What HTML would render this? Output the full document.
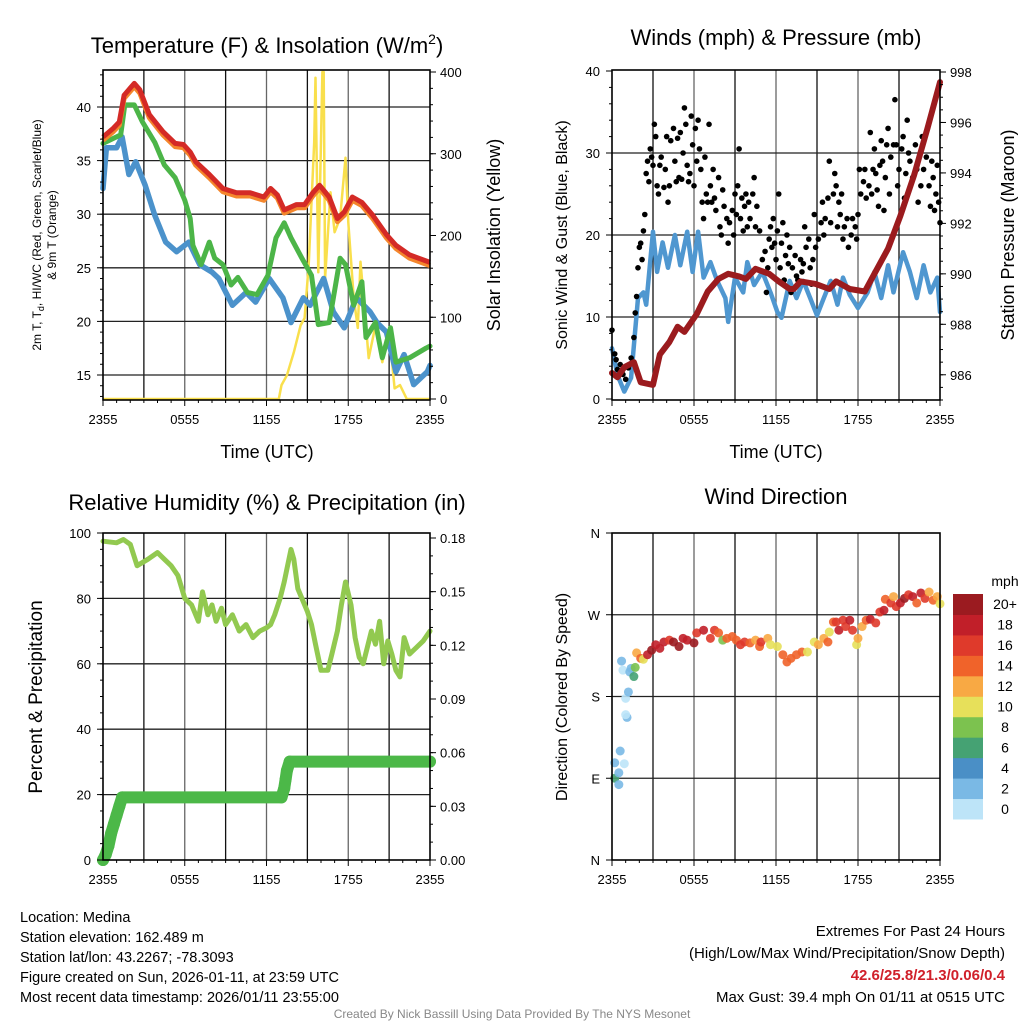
<!DOCTYPE html>
<html><head><meta charset="utf-8">
<style>
body{margin:0;background:#fff;}
svg{display:block;font-family:"Liberation Sans",Arial,sans-serif;}
</style></head>
<body>
<svg id="c" width="1024" height="1024" viewBox="0 0 1024 1024" xmlns="http://www.w3.org/2000/svg">
<rect width="1024" height="1024" fill="#fff"/>
<!-- titles -->
<text x="267" y="53" font-size="22" text-anchor="middle">Temperature (F) &amp; Insolation (W/m<tspan font-size="14" dy="-9">2</tspan><tspan dy="9">)</tspan></text>
<text x="776" y="45" font-size="22" text-anchor="middle">Winds (mph) &amp; Pressure (mb)</text>
<text x="267" y="510" font-size="22" text-anchor="middle">Relative Humidity (%) &amp; Precipitation (in)</text>
<text x="776" y="504" font-size="22" text-anchor="middle">Wind Direction</text>
<!-- axis titles -->
<text x="267" y="458" font-size="18" text-anchor="middle">Time (UTC)</text>
<text x="776" y="458" font-size="18" text-anchor="middle">Time (UTC)</text>
<text transform="translate(41,235) rotate(-90)" font-size="12" text-anchor="middle">2m T, T<tspan font-size="9" dy="3">d</tspan><tspan dy="-3">, HI/WC (Red, Green, Scarlet/Blue)</tspan></text>
<text transform="translate(56,235) rotate(-90)" font-size="12" text-anchor="middle">&amp; 9m T (Orange)</text>
<text transform="translate(500,235) rotate(-90)" font-size="18" text-anchor="middle">Solar Insolation (Yellow)</text>
<text transform="translate(567,235) rotate(-90)" font-size="16" text-anchor="middle">Sonic Wind &amp; Gust (Blue, Black)</text>
<text transform="translate(1014,235) rotate(-90)" font-size="18" text-anchor="middle">Station Pressure (Maroon)</text>
<text transform="translate(42,697) rotate(-90)" font-size="19" text-anchor="middle">Percent &amp; Precipitation</text>
<text transform="translate(567,697) rotate(-90)" font-size="16" text-anchor="middle">Direction (Colored By Speed)</text>
<!-- footer -->
<g font-size="14.5">
<text x="20" y="922">Location: Medina</text>
<text x="20" y="942">Station elevation: 162.489 m</text>
<text x="20" y="962">Station lat/lon: 43.2267; -78.3093</text>
<text x="20" y="982">Figure created on Sun, 2026-01-11, at 23:59 UTC</text>
<text x="20" y="1002">Most recent data timestamp: 2026/01/11 23:55:00</text>
</g>
<g font-size="15" text-anchor="end">
<text x="1005" y="936">Extremes For Past 24 Hours</text>
<text x="1005" y="958">(High/Low/Max Wind/Precipitation/Snow Depth)</text>
<text x="1005" y="980" fill="#d0202a" font-weight="bold">42.6/25.8/21.3/0.06/0.4</text>
<text x="1005" y="1002">Max Gust: 39.4 mph On 01/11 at 0515 UTC</text>
</g>
<text x="512" y="1018" font-size="12" fill="#888" text-anchor="middle">Created By Nick Bassill Using Data Provided By The NYS Mesonet</text>
<g id="g"></g>
</svg>
<script>
// ---- data ----
const xTickLabels=["2355","0555","1155","1755","2355"];
const tempTicks=[15,20,25,30,35,40];
const solarTicks=[0,100,200,300,400];
const windTicks=[0,10,20,30,40];
const presTicks=[986,988,990,992,994,996,998];
const rhTicks=[0,20,40,60,80,100];
const precipTicks=["0.00","0.03","0.06","0.09","0.12","0.15","0.18"];
const dirTicks=["N","E","S","W","N"];
const cbarLabels=["0","2","4","6","8","10","12","14","16","18","20+"];
const cbarColors=["#bde4f8","#7ab9e5","#4a8fc6","#45a273","#7cc24f","#e7e05a","#f8a944","#f0632a","#df3a2b","#c11f29","#9b1b20"];

const redH=[0,0.75,1.2,1.55,2.3,2.7,3.4,4.4,5.3,5.9,6.4,6.8,7.8,8.8,9.8,10.8,11.8,12.3,12.8,13.3,14.2,14.8,15.4,15.9,16.6,17.2,17.7,18.3,19,19.8,20.8,21.5,22.5,24];
const redT=[37.2,38,38.6,41.1,42.2,41.6,39.3,37.7,36.6,36.5,35.8,34.9,33.7,32.4,32,32,31.6,32.4,31.8,30.4,30.9,30.9,32,32.7,31.6,29.6,30.2,31.6,31.1,29.9,28.1,27.1,26.2,25.5];
const orangeT=[36.9,37.7,38.3,40.8,41.9,41.3,39.0,37.4,36.3,36.2,35.5,34.6,33.4,32.1,31.7,31.7,31.3,32.1,31.5,30.1,30.6,30.6,31.7,32.4,31.3,29.3,29.9,31.3,30.8,29.6,27.8,26.8,25.9,25.2];
const greenH=[0,1.3,1.6,2.3,2.9,3.8,4.5,5.3,6.0,6.4,6.6,7.2,7.8,8.2,8.8,9.4,9.9,10.6,11.3,12.1,12.7,13.3,13.8,14.6,15.3,15.8,16.6,17.4,17.8,18.4,19,19.3,20,20.5,21.1,21.5,22.5,23.7,24];
const greenT=[36.6,37.4,40.2,40.2,38.6,36.7,34.6,33.4,31.3,29.6,27.1,25.3,27.4,25.9,25.3,23.4,24.1,22.7,22.5,24.3,27.8,29.2,27.8,25.9,24.3,19.7,19.9,25.9,25.3,21.5,23.7,18.5,19.9,16.6,19.4,16.2,16.6,17.5,17.7];
const blueH=[0,0.25,1,1.4,1.9,2.4,3.1,3.8,4.6,5.4,6.3,7.1,8,8.5,9.5,10.5,11.2,12.2,13.2,13.8,14.7,15.2,16.2,16.9,17.7,18.6,19.6,20.1,20.8,21.5,22.1,22.8,23.8,24];
const blueT=[32.4,36.2,36.2,37.2,33.7,34.9,32.7,29.9,27.4,26.5,27.4,25.3,24.6,24,21.5,22.7,21.8,24,22.2,19.9,22.2,21.5,24,20.9,19.4,22.2,20.9,19.9,19,15.3,16.9,14.1,15.3,15.9];
const solarH=[0,12.9,13.1,13.5,14,14.5,14.8,15.1,15.5,15.6,15.8,16.1,16.2,16.3,16.7,17,17.4,17.8,18,18.4,18.7,18.9,19.5,20,20.5,21,21.4,21.8,22.3,24];
const solarV=[0,0,17,29,57,90,99,164,314,393,155,400,400,148,253,204,221,295,216,124,87,168,50,90,45,82,13,17,0,0];

const presH=[0,0.4,0.9,1.6,2.1,3,3.5,4.2,4.8,5.3,6.2,7,7.8,8.5,9.3,9.8,10.5,11.5,12.2,13,13.3,13.8,14.9,15.9,16.4,17.4,18.5,19.2,20.2,21.1,22.1,23.1,24];
const presV=[986.07,985.9,986.3,986.5,985.7,985.6,986.8,987.3,987.9,987.7,988.4,989.3,989.8,990,989.9,989.8,990.2,990,989.7,989.4,989.4,989.7,989.6,989.4,989.7,989.4,989.3,990,991,992.3,993.9,995.8,997.6];
const windH=[0,0.4,0.9,1.4,1.9,2.3,2.5,3,3.3,3.7,4.1,4.6,5,5.5,5.9,6.3,6.7,7.2,7.7,8.3,8.5,9,9.6,9.9,10.4,11,11.6,12.1,12.4,13,13.5,14,14.5,15,15.5,16,16.5,16.9,17.4,18,18.7,19.2,19.7,20.2,20.6,21.3,21.8,22.3,22.8,23.3,23.8,24];
const windV=[6.2,2.9,0.9,2.6,12.3,13,11.5,20.4,15.5,19.1,16,20,16.3,20.4,15.5,20.4,14.8,16.7,14.4,12.3,9.4,14.8,13,16.7,13.9,15.5,13,10.6,9.9,14.4,12.3,14.4,12.3,10.2,12.3,14.4,11.5,14.8,12.7,11.1,13,15.5,12.3,16.3,13,17.9,15.5,12.3,16.3,13,14.8,10.6];
const gustH=[0.0,0.2,0.3,0.4,0.6,0.8,1.0,1.2,1.4,1.6,1.7,1.8,1.9,2.0,2.1,2.2,2.3,2.4,2.5,2.6,2.7,2.8,2.9,3.0,3.1,3.2,3.3,3.4,3.5,3.6,3.8,3.9,4.0,4.1,4.2,4.3,4.5,4.6,4.7,4.8,4.9,5.0,5.1,5.2,5.3,5.4,5.5,5.6,5.7,5.8,5.9,6.0,6.1,6.2,6.3,6.4,6.5,6.6,6.7,6.8,6.9,7.0,7.1,7.2,7.3,7.4,7.5,7.6,7.8,7.9,8.0,8.1,8.2,8.4,8.5,8.6,8.8,8.9,9.0,9.1,9.2,9.3,9.4,9.5,9.6,9.7,9.8,9.9,10.0,10.1,10.3,10.4,10.5,10.6,10.8,11.0,11.1,11.2,11.3,11.4,11.5,11.6,11.7,11.8,11.9,12.0,12.1,12.2,12.3,12.4,12.5,12.6,12.7,12.8,12.9,13.0,13.1,13.2,13.4,13.5,13.6,13.8,13.9,14.0,14.1,14.2,14.4,14.5,14.6,14.7,14.8,14.9,15.1,15.3,15.4,15.5,15.6,15.8,15.9,16.0,16.2,16.3,16.4,16.5,16.6,16.7,16.8,16.9,17.0,17.2,17.3,17.5,17.6,17.8,17.9,18.0,18.1,18.2,18.4,18.5,18.6,18.8,18.9,19.0,19.1,19.2,19.3,19.4,19.5,19.6,19.7,19.8,19.9,20.0,20.1,20.2,20.3,20.4,20.6,20.7,20.8,20.9,21.0,21.2,21.3,21.4,21.5,21.6,21.7,21.8,22.0,22.2,22.3,22.4,22.6,22.7,22.8,23.0,23.2,23.3,23.4,23.5,23.6,23.7,23.8,23.9,24.0];
const gustV=[8.4,5.5,4.8,3.6,4.2,3.0,2.4,3.8,5.0,7.5,10.5,12.5,16.0,18.5,19.0,17.0,20.5,22.5,27.5,29.0,26.5,30.5,29.5,28.5,33.5,32.0,26.0,25.0,28.5,29.5,25.8,28.0,32.0,24.0,26.0,31.5,33.0,29.0,26.5,31.8,27.0,32.5,26.8,30.0,35.5,33.5,28.5,26.5,27.5,34.5,31.0,26.0,33.0,29.0,34.0,30.5,28.0,24.0,22.0,29.5,25.0,24.0,33.5,26.0,24.0,28.0,24.5,23.0,27.0,21.0,20.0,25.5,23.5,22.0,19.0,21.5,23.0,20.0,25.0,22.5,26.0,30.5,22.0,24.5,20.5,23.5,25.0,21.0,24.0,22.0,25.0,27.0,21.0,23.5,20.5,17.0,15.5,18.0,13.0,16.0,19.5,21.0,18.5,22.0,19.0,17.0,20.5,25.0,16.0,19.0,21.5,14.5,17.5,20.0,16.5,18.5,13.0,16.0,17.5,15.0,14.5,17.0,15.5,16.5,21.0,18.5,19.5,16.0,14.0,17.0,22.5,18.5,19.5,21.5,24.0,20.0,22.0,24.5,29.0,21.5,25.0,27.5,26.0,21.0,24.0,22.5,25.0,19.5,21.0,22.0,18.5,20.0,22.0,21.0,19.5,22.5,28.0,25.0,26.5,28.0,24.5,26.0,32.5,25.0,28.0,30.5,27.5,25.5,23.5,28.5,31.5,29.0,23.0,27.0,31.0,33.0,25.0,29.5,31.0,36.5,31.0,26.0,28.0,30.5,32.0,24.5,27.5,34.0,30.0,29.0,27.0,31.0,28.0,24.0,26.0,32.0,28.0,29.5,26.0,23.5,29.0,27.0,23.0,25.0,28.5,24.0,21.5];

const rhH=[0,1,1.5,2,2.5,3.3,4,4.5,5,5.5,6,6.5,7,7.3,7.7,8,8.3,8.7,9,9.5,10,10.5,11,11.5,12,12.3,12.6,13,13.3,13.5,13.8,14,14.3,14.6,15,15.3,15.6,16,16.5,16.8,17.2,17.5,17.8,18.2,18.5,18.8,19.1,19.4,19.7,20,20.3,20.6,20.9,21.2,21.5,21.8,22.1,22.5,23,23.5,24];
const rhV=[97.5,97,98,96.5,90,92,94,92,90,87,80,78,73,82,75,78,73,77,72,75,70,72,68,70,71,72,75,80,85,89,95,92,83,80,76,72,66,58,58,63,70,78,85,78,68,62,60,65,70,66,73,60,67,63,58,56,68,63,65,67,70];
const precipH=[0,0.2,0.4,0.6,0.8,1.0,1.2,1.4,13.1,13.3,13.4,13.5,13.7,24];
const precipV=[0,0.003,0.008,0.015,0.02,0.025,0.03,0.035,0.035,0.04,0.045,0.05,0.055,0.055];

const dirH=[0.2,0.2,0.5,0.5,0.6,0.9,1.1,1.0,1.0,1.2,0.7,0.8,1.3,1.4,1.6,1.7,1.8,2.1,2.3,2.6,2.9,3.2,3.5,3.8,4.2,4.5,4.9,5.2,5.5,6.0,6.2,6.7,7.2,7.5,7.8,8.1,8.4,8.8,9.1,9.4,9.7,10.1,10.5,10.8,10.9,11.4,11.6,12.1,12.5,12.8,13.1,13.5,13.9,14.3,14.8,15.1,15.5,15.8,15.9,16.2,16.4,16.6,16.9,17.1,17.4,17.6,17.9,18.0,18.3,18.6,18.9,19.3,19.6,19.9,20.0,20.4,20.6,20.8,21.1,21.4,21.7,22.0,22.3,22.6,22.9,23.2,23.5,23.8,24];
const dirV=[90,107,96,83,120,106,157,160,178,185,219,209,207,211,202,212,228,222,221,226,231,237,233,240,242,240,235,244,242,239,250,253,244,253,250,242,244,246,242,237,240,239,242,235,240,244,237,235,226,218,222,226,229,229,240,237,244,240,251,262,262,253,264,257,264,253,237,244,257,264,265,261,273,275,287,283,290,279,283,288,292,290,283,294,288,295,286,290,282];
const dirSpd=[6,3,3,3,3,1,3,1,1,3,3,1,3,3,7,8,13,14,11,19,20,18,19,18,17,20,20,19,18,20,16,18,17,17,15,8,14,15,15,17,17,14,12,14,17,13,10,10,14,14,14,14,14,10,10,12,12,14,10,14,16,18,16,16,18,16,10,12,12,14,18,16,16,18,14,16,12,16,18,20,16,18,14,18,16,12,14,12,10];

// ---- rendering ----
const NS="http://www.w3.org/2000/svg";
const G=document.getElementById('g');
function el(tag,attrs,parent){const e=document.createElementNS(NS,tag);for(const k in attrs)e.setAttribute(k,attrs[k]);(parent||G).appendChild(e);return e;}
function lin(d0,d1,r0,r1){return v=>r0+(v-d0)*(r1-r0)/(d1-d0);}
function pathFrom(xs,ys,fx,fy){return xs.map((h,i)=>(i?'L':'M')+fx(h).toFixed(1)+','+fy(ys[i]).toFixed(1)).join('');}

function frame(x0,y0,x1,y1,hLines,fy,name){
  const g=el('g',{});
  
  
  const fx=lin(0,24,x0,x1);
  for(let h=3;h<24;h+=3){const l=el('line',{x1:fx(h),x2:fx(h),y1:y0,y2:y1,stroke:(h%6?'#111':'#666'),'stroke-width':1.3},g);
    
    }
  hLines.forEach(v=>{const l=el('line',{x1:x0,x2:x1,y1:fy(v),y2:fy(v),stroke:'#222','stroke-width':1.3},g);
    
    });
  for(let h=0;h<=24;h+=1){const len=h%6?3:6;
    el('line',{x1:fx(h),x2:fx(h),y1:y1,y2:y1+len,stroke:'#000','stroke-width':1},g);}
  xTickLabels.forEach((t,i)=>{const tx=el('text',{x:fx(i*6),y:y1+24,'font-size':13,'text-anchor':'middle'},g);tx.textContent=t;
    
    });
  return {g,fx};
}
function border(x0,y0,x1,y1){const r=el('rect',{x:x0,y:y0,width:x1-x0,height:y1-y0,fill:'none',stroke:'#000','stroke-width':1.6});
  
  }
function yTicks(vals,labels,fy,x,side,minorStep,lo,hi){
  vals.forEach((v,i)=>{const y=fy(v);
    el('line',{x1:x,x2:x+(side>0?6:-6),y1:y,y2:y,stroke:'#000'});
    const t=el('text',{x:x+(side>0?10:-12),y:y+5,'font-size':13,'text-anchor':side>0?'start':'end'});t.textContent=labels[i];
    
    });
  if(minorStep){for(let v=lo;v<=hi+1e-9;v+=minorStep){el('line',{x1:x,x2:x+(side>0?3:-3),y1:fy(v),y2:fy(v),stroke:'#000'});}}
}

// Panel 1
{
 const x0=103,x1=430,y0=70,y1=400;
 const fy=lin(15,40,375,107), fs=lin(0,400,399,72);
 const {fx}=frame(x0,y0,x1,y1,tempTicks,fy,'temperature');
 const s=el('path',{d:pathFrom(solarH,solarV,fx,fs),fill:'none',stroke:'#f9df4c','stroke-width':2.5,'stroke-linejoin':'round'});
 
 
 const b=el('path',{d:pathFrom(blueH,blueT,fx,fy),fill:'none',stroke:'#4b92cb','stroke-width':5.5,'stroke-linejoin':'round','stroke-linecap':'round'});
 
 
 const gr=el('path',{d:pathFrom(greenH,greenT,fx,fy),fill:'none',stroke:'#4cb548','stroke-width':5,'stroke-linejoin':'round','stroke-linecap':'round'});
 
 
 const o=el('path',{d:pathFrom(redH,orangeT,fx,fy),fill:'none',stroke:'#f4862c','stroke-width':5,'stroke-linejoin':'round'});
 
 
 const r=el('path',{d:pathFrom(redH,redT,fx,fy),fill:'none',stroke:'#d42a26','stroke-width':5,'stroke-linejoin':'round'});
 
 
 border(x0,y0,x1,y1);
 yTicks(tempTicks,tempTicks.map(String),fy,x0,-1,1,13,43);
 yTicks(solarTicks,solarTicks.map(String),fs,x1,1,20,0,400);
}
// Panel 2
{
 const x0=612,x1=940,y0=70,y1=400;
 const fy=lin(0,40,399,71), fp=lin(985,998,400,72);
 const {fx}=frame(x0,y0,x1,y1,[10,20,30],fy,'winds');
 const w=el('path',{d:pathFrom(windH,windV,fx,fy),fill:'none',stroke:'#4f97d0','stroke-width':4.5,'stroke-linejoin':'round','stroke-linecap':'round'});
 
 
 gustH.forEach((h,i)=>{const c=el('circle',{cx:fx(h),cy:fy(gustV[i]),r:2.8,fill:'#000'});
   
   });
 const p=el('path',{d:pathFrom(presH,presV,fx,fp),fill:'none',stroke:'#9b1b1e','stroke-width':6,'stroke-linejoin':'round','stroke-linecap':'round'});
 
 
 border(x0,y0,x1,y1);
 yTicks(windTicks,windTicks.map(String),fy,x0,-1,2,0,40);
 yTicks(presTicks,presTicks.map(String),fp,x1,1,0.5,985,998);
}
// Panel 3
{
 const x0=103,x1=430,y0=533,y1=860;
 const fy=lin(0,100,860,533), fp=lin(0,0.18,860,538);
 const {fx}=frame(x0,y0,x1,y1,[20,40,60,80],fy,'humidity');
 const pr=el('path',{d:pathFrom(precipH,precipV,fx,fp),fill:'none',stroke:'#4cb848','stroke-width':12,'stroke-linejoin':'round','stroke-linecap':'round'});
 
 
 precipH.forEach((h,i)=>{const c=el('circle',{cx:fx(h),cy:fp(precipV[i]),r:6,fill:'#4cb848'});
   
   });
 const rh=el('path',{d:pathFrom(rhH,rhV,fx,fy),fill:'none',stroke:'#92c950','stroke-width':5,'stroke-linejoin':'round','stroke-linecap':'round'});
 
 
 border(x0,y0,x1,y1);
 yTicks(rhTicks,rhTicks.map(String),fy,x0,-1,5,0,100);
 yTicks(precipTicks.map(Number),precipTicks,fp,x1,1,0.01,0,0.18);
}
// Panel 4
{
 const x0=612,x1=940,y0=533,y1=860;
 const fy=lin(0,360,860,533);
 const {fx}=frame(x0,y0,x1,y1,[90,180,270],fy,'wind-direction');
 dirH.forEach((h,i)=>{const k=Math.min(10,Math.floor(dirSpd[i]/2));
   const c=el('circle',{cx:fx(h),cy:fy(dirV[i]),r:4.5,fill:cbarColors[k],'fill-opacity':0.9});
   
   });
 border(x0,y0,x1,y1);
 yTicks([0,90,180,270,360],dirTicks,fy,x0,-1,0,0,0);
 const ttl=el('text',{x:1005,y:586,'font-size':14,'text-anchor':'middle'});ttl.textContent='mph';
 
 
 const bh=(819-594)/11;
 cbarColors.forEach((c,i)=>{const y=819-(i+1)*bh;
   const r=el('rect',{x:953,y:y,width:30,height:bh+0.5,fill:c});
   
   
   const t=el('text',{x:1005,y:y+bh/2+5,'font-size':14,'text-anchor':'middle'});t.textContent=cbarLabels[i];
   
   });
}
</script>
</body></html>
